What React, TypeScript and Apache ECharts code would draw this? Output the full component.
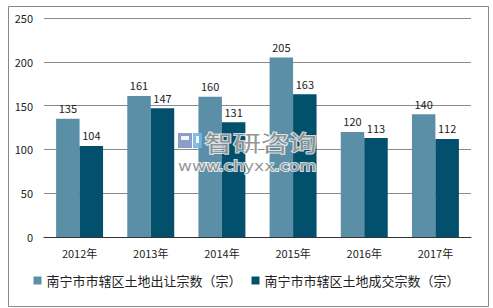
import React, { useEffect, useRef } from "react";
import * as echarts from "echarts";

const categories = ["2012年", "2013年", "2014年", "2015年", "2016年", "2017年"];
const seriesNames = ["南宁市市辖区土地出让宗数（宗）", "南宁市市辖区土地成交宗数（宗）"];
const transferred = [135, 161, 160, 205, 120, 140];
const traded = [104, 147, 131, 163, 113, 112];
const colors = ["#5b8fa7", "#02506b"];
const font = "'Noto Sans CJK SC', 'Microsoft YaHei', sans-serif";

export default function App() {
  const ref = useRef<HTMLDivElement>(null);
  useEffect(() => {
    const chart = echarts.init(ref.current!, undefined, { renderer: "svg" });
    const label = {
      show: true,
      position: "top" as const,
      distance: 5,
      color: "#222",
      fontSize: 11,
      fontFamily: font,
    };
    chart.setOption({
      animation: false,
      backgroundColor: "#fff",
      grid: { left: 44, right: 22, top: 18, bottom: 71 },
      legend: {
        bottom: 16,
        left: "center",
        itemWidth: 8,
        itemHeight: 8,
        itemGap: 10,
        icon: "rect",
        textStyle: { fontSize: 13, color: "#222", fontFamily: font },
        data: seriesNames,
      },
      xAxis: {
        type: "category",
        data: categories,
        axisTick: { show: false },
        axisLine: { lineStyle: { color: "#333", width: 1 } },
        axisLabel: { fontSize: 11, color: "#222", fontFamily: font, margin: 10 },
      },
      yAxis: {
        type: "value",
        min: 0,
        max: 250,
        interval: 50,
        axisLine: { show: false },
        axisTick: { show: false },
        axisLabel: { fontSize: 11, color: "#222", fontFamily: font, margin: 11 },
        splitLine: { lineStyle: { color: "#8a8a8a", width: 1 } },
      },
      series: [
        {
          name: seriesNames[0],
          type: "bar",
          data: transferred,
          itemStyle: { color: colors[0] },
          barGap: "0%",
          barCategoryGap: "34%",
          label,
        },
        {
          name: seriesNames[1],
          type: "bar",
          data: traded,
          itemStyle: { color: colors[1] },
          barGap: "0%",
          barCategoryGap: "34%",
          label,
        },
      ],
      graphic: [
        {
          type: "rect",
          left: 6,
          top: 4,
          z: 100,
          shape: { width: 480, height: 300 },
          style: { fill: "none", stroke: "#888", lineWidth: 1 },
          silent: true,
        },
        {
          type: "group",
          x: 178,
          y: 133,
          z: 100,
          silent: true,
          children: [
            { type: "rect", z: 100, shape: { x: 0, y: 0, width: 14, height: 15 }, style: { fill: "rgba(120,140,190,0.85)" } },
            { type: "rect", z: 101, shape: { x: 3, y: 3, width: 8, height: 4 }, style: { fill: "rgba(255,255,255,0.9)" } },
            { type: "rect", z: 100, shape: { x: 15, y: 0, width: 9, height: 15 }, style: { fill: "rgba(120,180,225,0.9)" } },
            { type: "rect", z: 101, shape: { x: 18, y: 3, width: 3, height: 7 }, style: { fill: "rgba(255,255,255,0.9)" } },
          ],
        },
        {
          type: "text",
          x: 205,
          y: 141,
          scaleX: 1.27,
          z: 100,
          silent: true,
          style: {
            x: 0,
            y: 0,
            text: "智研咨询",
            fontSize: 22,
            fontFamily: font,
            align: "left",
            verticalAlign: "middle",
            fill: "rgba(130,130,130,0.85)",
            stroke: "rgba(255,255,255,0.8)",
            lineWidth: 2,
          },
        },
        {
          type: "text",
          x: 178,
          y: 167,
          scaleX: 1.22,
          z: 100,
          silent: true,
          style: {
            x: 0,
            y: 0,
            text: "www.chyxx.com",
            fontSize: 14,
            fontFamily: "'DejaVu Sans', sans-serif",
            align: "left",
            verticalAlign: "middle",
            fill: "rgba(130,130,130,0.85)",
            stroke: "rgba(255,255,255,0.8)",
            lineWidth: 2,
          },
        },
      ],
    });
    return () => chart.dispose();
  }, []);
  return <div ref={ref} style={{ width: 493, height: 308, position: "absolute", left: 0, top: 0 }} />;
}
